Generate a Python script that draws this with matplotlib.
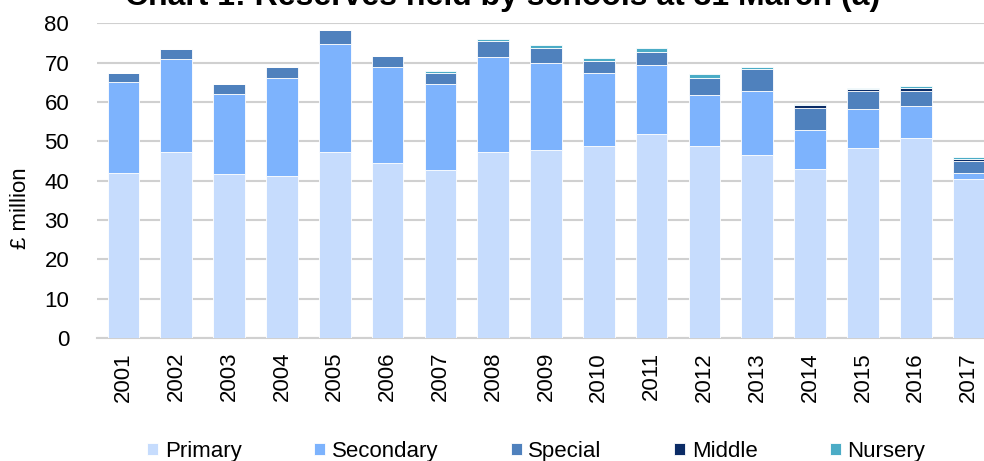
import matplotlib
matplotlib.use("Agg")
import matplotlib.pyplot as plt
import numpy as np

plt.rcParams['font.family'] = ['Liberation Sans', 'DejaVu Sans']

years = ['2001', '2002', '2003', '2004', '2005', '2006', '2007', '2008', '2009',
         '2010', '2011', '2012', '2013', '2014', '2015', '2016', '2017']
primary = [41.9, 47.2, 41.6, 41.2, 47.2, 44.4, 42.6, 47.2, 47.7, 48.8, 51.8, 48.7, 46.4, 42.9, 48.2, 50.8, 40.3]
secondary = [23.3, 23.6, 20.4, 24.8, 27.5, 24.4, 21.9, 24.2, 22.1, 18.5, 17.7, 13.0, 16.5, 10.1, 9.9, 8.3, 1.6]
special = [2.2, 2.6, 2.6, 2.8, 3.5, 3.0, 2.9, 4.0, 3.9, 3.1, 3.2, 4.4, 5.4, 5.4, 4.6, 3.8, 3.0]
middle = [0, 0, 0, 0, 0, 0, 0, 0, 0, 0, 0, 0, 0, 0.8, 0.6, 0.6, 0.6]
nursery = [0, 0, 0, 0, 0, 0, 0.6, 0.7, 0.7, 0.8, 1.0, 0.9, 0.7, 0.4, 0.2, 0.5, 0.4]

series = [('Primary', primary, '#C6DCFD'),
          ('Secondary', secondary, '#7DB3FD'),
          ('Special', special, '#4F81BD'),
          ('Middle', middle, '#0B2C66'),
          ('Nursery', nursery, '#4BACC6')]

fig = plt.figure(figsize=(9.84, 4.61), dpi=100)
ax = fig.add_axes([97/984, (461-338)/461, 898/984, (338-23.3)/461])

x = np.arange(len(years))
bottom = np.zeros(len(years))
for name, vals, col in series:
    v = np.array(vals)
    ax.bar(x, v, 0.6, bottom=bottom, color=col, edgecolor='white', linewidth=0.6, label=name, zorder=3)
    bottom += v

ax.set_xlim(-0.5, len(years) - 0.5)
ax.set_ylim(0, 80)
ax.set_yticks(range(0, 81, 10))
ax.set_xticks(x)
ax.set_xticklabels(years, rotation=90, fontsize=16)
ax.tick_params(axis='y', labelsize=16, length=0, pad=20)
ax.tick_params(axis='x', length=0, pad=10)
ax.grid(axis='y', color='#D0D0D0', linewidth=1.5, zorder=0)
for s in ['top', 'right', 'left']:
    ax.spines[s].set_visible(False)
ax.spines['bottom'].set_color('#D0D0D0')
ax.spines['bottom'].set_linewidth(1.5)

fig.text(21/984, (461-208)/461, '£ million', rotation=90, ha='center', va='center', fontsize=16)

fig.text(503/984, (461-4.5)/461, 'Chart 1: Reserves held by schools at 31 March (a)',
         ha='center', va='baseline', fontsize=23, fontweight='bold')

handles, labels = ax.get_legend_handles_labels()
fig.legend(handles, labels, loc='lower center', bbox_to_anchor=(0.545, -0.045), ncol=5,
           frameon=False, fontsize=16, handlelength=0.5, handleheight=0.5,
           handletextpad=0.3, columnspacing=3.25)

fig.savefig('out.png', dpi=100)
